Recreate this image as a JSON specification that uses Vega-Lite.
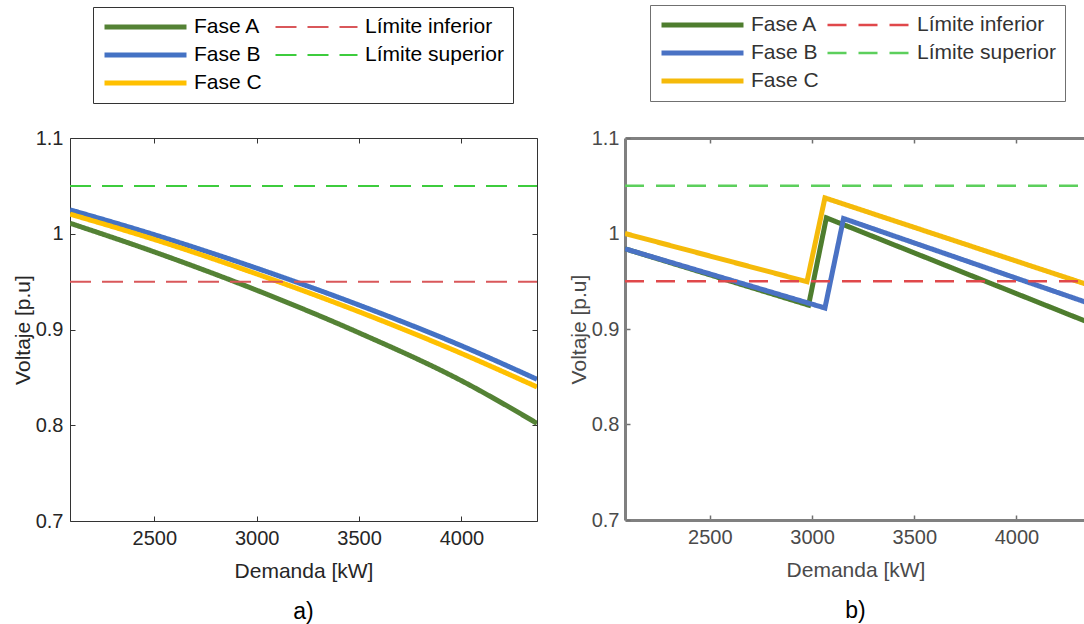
{
  "$schema": "https://vega.github.io/schema/vega-lite/v6.json",
  "background": "white",
  "padding": {"left": 11, "top": 4, "right": 0, "bottom": 0},
  "spacing": 30,
  "config": {
    "font": "Liberation Sans",
    "view": {"stroke": null},
    "axis": {"labelFont": "Liberation Sans", "titleFont": "Liberation Sans", "grid": false, "labelFontSize": 20, "titleFontSize": 21, "titleFontWeight": "normal"},
    "title": {"font": "Liberation Sans"}
  },
  "resolve": {
    "scale": {"color": "independent", "strokeDash": "independent", "strokeWidth": "independent"},
    "legend": {"color": "independent", "strokeDash": "independent", "strokeWidth": "independent"}
  },
  "datasets": {
    "a": [
      {"serie": "Fase A", "demanda": 2088, "voltaje": 1.011},
      {"serie": "Fase A", "demanda": 2500, "voltaje": 0.981},
      {"serie": "Fase A", "demanda": 3000, "voltaje": 0.941},
      {"serie": "Fase A", "demanda": 3500, "voltaje": 0.8965},
      {"serie": "Fase A", "demanda": 4000, "voltaje": 0.8465},
      {"serie": "Fase A", "demanda": 4369, "voltaje": 0.802},
      {"serie": "Fase B", "demanda": 2088, "voltaje": 1.025},
      {"serie": "Fase B", "demanda": 2500, "voltaje": 0.999},
      {"serie": "Fase B", "demanda": 3000, "voltaje": 0.964},
      {"serie": "Fase B", "demanda": 3500, "voltaje": 0.9255},
      {"serie": "Fase B", "demanda": 4000, "voltaje": 0.883},
      {"serie": "Fase B", "demanda": 4369, "voltaje": 0.848},
      {"serie": "Fase C", "demanda": 2088, "voltaje": 1.0205},
      {"serie": "Fase C", "demanda": 2500, "voltaje": 0.994},
      {"serie": "Fase C", "demanda": 3000, "voltaje": 0.958},
      {"serie": "Fase C", "demanda": 3500, "voltaje": 0.9185},
      {"serie": "Fase C", "demanda": 4000, "voltaje": 0.875},
      {"serie": "Fase C", "demanda": 4369, "voltaje": 0.84},
      {"serie": "Límite inferior", "demanda": 2088, "voltaje": 0.95},
      {"serie": "Límite inferior", "demanda": 4369, "voltaje": 0.95},
      {"serie": "Límite superior", "demanda": 2088, "voltaje": 1.05},
      {"serie": "Límite superior", "demanda": 4369, "voltaje": 1.05}
    ],
    "b": [
      {"serie": "Fase A", "demanda": 2085, "voltaje": 0.984},
      {"serie": "Fase A", "demanda": 2983, "voltaje": 0.925},
      {"serie": "Fase A", "demanda": 3070, "voltaje": 1.0164},
      {"serie": "Fase A", "demanda": 4340, "voltaje": 0.908},
      {"serie": "Fase B", "demanda": 2085, "voltaje": 0.984},
      {"serie": "Fase B", "demanda": 3063, "voltaje": 0.922},
      {"serie": "Fase B", "demanda": 3154, "voltaje": 1.0157},
      {"serie": "Fase B", "demanda": 4340, "voltaje": 0.928},
      {"serie": "Fase C", "demanda": 2085, "voltaje": 1.0},
      {"serie": "Fase C", "demanda": 2975, "voltaje": 0.9495},
      {"serie": "Fase C", "demanda": 3063, "voltaje": 1.0373},
      {"serie": "Fase C", "demanda": 4340, "voltaje": 0.947},
      {"serie": "Límite inferior", "demanda": 2085, "voltaje": 0.95},
      {"serie": "Límite inferior", "demanda": 4340, "voltaje": 0.95},
      {"serie": "Límite superior", "demanda": 2085, "voltaje": 1.05},
      {"serie": "Límite superior", "demanda": 4340, "voltaje": 1.05}
    ]
  },
  "hconcat": [
    {
      "width": 467,
      "height": 383,
      "view": {"stroke": "#333333", "strokeWidth": 1},
      "data": {"name": "a"},
      "title": {"text": "a)", "orient": "bottom", "anchor": "middle", "fontSize": 23, "fontWeight": "normal", "color": "#000000", "offset": 20},
      "encoding": {
        "color": {"field": "serie", "type": "nominal",
          "scale": {"domain": ["Fase A", "Fase B", "Fase C", "Límite inferior", "Límite superior"], "range": ["#548235", "#4472C4", "#FFC000", "#D9575A", "#3DCC3D"]},
          "legend": {"orient": "none", "legendX": 23, "legendY": -131, "direction": "vertical", "columns": 2, "title": null, "strokeColor": "#333333", "fillColor": "white", "padding": 9, "symbolType": "stroke", "symbolSize": 6724, "symbolOffset": 0, "labelOffset": 5, "labelFontSize": 21, "labelColor": "#000000", "clipHeight": 22, "rowPadding": 6, "columnPadding": 11}},
        "strokeDash": {"field": "serie", "type": "nominal",
          "scale": {"domain": ["Fase A", "Fase B", "Fase C", "Límite inferior", "Límite superior"], "range": [[1, 0], [1, 0], [1, 0], [21, 11], [21, 11]]},
          "legend": {"orient": "none", "legendX": 23, "legendY": -131, "direction": "vertical", "columns": 2, "title": null, "strokeColor": "#333333", "fillColor": "white", "padding": 9, "symbolType": "stroke", "symbolSize": 6724, "symbolOffset": 0, "labelOffset": 5, "labelFontSize": 21, "labelColor": "#000000", "clipHeight": 22, "rowPadding": 6, "columnPadding": 11}},
        "strokeWidth": {"field": "serie", "type": "nominal",
          "scale": {"type": "ordinal", "domain": ["Fase A", "Fase B", "Fase C", "Límite inferior", "Límite superior"], "range": [5, 5, 5, 2, 2]},
          "legend": {"orient": "none", "legendX": 23, "legendY": -131, "direction": "vertical", "columns": 2, "title": null, "strokeColor": "#333333", "fillColor": "white", "padding": 9, "symbolType": "stroke", "symbolSize": 6724, "symbolOffset": 0, "labelOffset": 5, "labelFontSize": 21, "labelColor": "#000000", "clipHeight": 22, "rowPadding": 6, "columnPadding": 11}}
      },
      "resolve": {"axis": {"x": "independent", "y": "independent"}},
      "layer": [
        {
          "transform": [{"filter": "indexof(datum.serie, 'Fase') === 0"}],
          "mark": {"type": "line", "interpolate": "monotone", "clip": true},
          "encoding": {
            "x": {"field": "demanda", "type": "quantitative", "scale": {"domain": [2088, 4369], "nice": false, "zero": false},
              "axis": {"orient": "bottom", "values": [2500, 3000, 3500, 4000], "format": "d", "domain": false, "tickColor": "#333333", "tickSize": -5, "labelPadding": 12, "labelColor": "#262626", "title": "Demanda [kW]", "titleColor": "#262626", "titlePadding": 12}},
            "y": {"field": "voltaje", "type": "quantitative", "scale": {"domain": [0.7, 1.1], "nice": false, "zero": false},
              "axis": {"orient": "left", "values": [0.7, 0.8, 0.9, 1, 1.1], "format": "~g", "domain": false, "tickColor": "#333333", "tickSize": -5, "labelPadding": 12, "labelColor": "#262626", "title": "Voltaje [p.u]", "titleColor": "#262626", "titlePadding": 2}}
          }
        },
        {
          "transform": [{"filter": "indexof(datum.serie, 'Límite') === 0"}],
          "mark": {"type": "line", "clip": true},
          "encoding": {
            "x": {"field": "demanda", "type": "quantitative", "scale": {"domain": [2088, 4369], "nice": false, "zero": false},
              "axis": {"orient": "top", "values": [2500, 3000, 3500, 4000], "labels": false, "domain": false, "tickColor": "#333333", "tickSize": -5, "title": null}},
            "y": {"field": "voltaje", "type": "quantitative", "scale": {"domain": [0.7, 1.1], "nice": false, "zero": false},
              "axis": {"orient": "right", "values": [0.7, 0.8, 0.9, 1, 1.1], "labels": false, "domain": false, "tickColor": "#333333", "tickSize": -5, "title": null}}
          }
        }
      ]
    },
    {
      "width": 461,
      "height": 382,
      "view": {"stroke": null},
      "data": {"name": "b"},
      "title": {"text": "b)", "orient": "bottom", "anchor": "middle", "fontSize": 23, "fontWeight": "normal", "color": "#000000", "offset": 20},
      "encoding": {
        "color": {"field": "serie", "type": "nominal",
          "scale": {"domain": ["Fase A", "Fase B", "Fase C", "Límite inferior", "Límite superior"], "range": ["#4E7D2E", "#4A72C4", "#F5BA0A", "#E0484B", "#5CCF5C"]},
          "legend": {"orient": "none", "legendX": 25, "legendY": -133, "direction": "vertical", "columns": 2, "title": null, "strokeColor": "#707070", "fillColor": "white", "padding": 9, "symbolType": "stroke", "symbolSize": 6724, "symbolOffset": 0, "labelOffset": 5, "labelFontSize": 21, "labelColor": "#333333", "clipHeight": 22, "rowPadding": 6, "columnPadding": 6}},
        "strokeDash": {"field": "serie", "type": "nominal",
          "scale": {"domain": ["Fase A", "Fase B", "Fase C", "Límite inferior", "Límite superior"], "range": [[1, 0], [1, 0], [1, 0], [19, 12], [19, 12]]},
          "legend": {"orient": "none", "legendX": 25, "legendY": -133, "direction": "vertical", "columns": 2, "title": null, "strokeColor": "#707070", "fillColor": "white", "padding": 9, "symbolType": "stroke", "symbolSize": 6724, "symbolOffset": 0, "labelOffset": 5, "labelFontSize": 21, "labelColor": "#333333", "clipHeight": 22, "rowPadding": 6, "columnPadding": 6}},
        "strokeWidth": {"field": "serie", "type": "nominal",
          "scale": {"type": "ordinal", "domain": ["Fase A", "Fase B", "Fase C", "Límite inferior", "Límite superior"], "range": [5, 5, 5, 2.5, 2.5]},
          "legend": {"orient": "none", "legendX": 25, "legendY": -133, "direction": "vertical", "columns": 2, "title": null, "strokeColor": "#707070", "fillColor": "white", "padding": 9, "symbolType": "stroke", "symbolSize": 6724, "symbolOffset": 0, "labelOffset": 5, "labelFontSize": 21, "labelColor": "#333333", "clipHeight": 22, "rowPadding": 6, "columnPadding": 6}}
      },
      "resolve": {"axis": {"x": "independent", "y": "independent"}},
      "layer": [
        {
          "transform": [{"filter": "indexof(datum.serie, 'Fase') === 0"}],
          "mark": {"type": "line", "clip": true},
          "encoding": {
            "x": {"field": "demanda", "type": "quantitative", "scale": {"domain": [2085, 4340], "nice": false, "zero": false},
              "axis": {"orient": "bottom", "values": [2500, 3000, 3500, 4000], "format": "d", "domain": true, "domainColor": "#808080", "domainWidth": 3, "tickColor": "#707070", "tickWidth": 1.5, "tickSize": -5, "labelPadding": 12, "labelColor": "#4a4a4a", "title": "Demanda [kW]", "titleColor": "#4a4a4a", "titlePadding": 12}},
            "y": {"field": "voltaje", "type": "quantitative", "scale": {"domain": [0.7, 1.1], "nice": false, "zero": false},
              "axis": {"orient": "left", "values": [0.7, 0.8, 0.9, 1, 1.1], "format": "~g", "domain": true, "domainColor": "#808080", "domainWidth": 3, "tickColor": "#707070", "tickWidth": 1.5, "tickSize": -5, "labelPadding": 11, "labelColor": "#4a4a4a", "title": "Voltaje [p.u]", "titleColor": "#4a4a4a", "titlePadding": 2}}
          }
        },
        {
          "transform": [{"filter": "indexof(datum.serie, 'Límite') === 0"}],
          "mark": {"type": "line", "clip": true},
          "encoding": {
            "x": {"field": "demanda", "type": "quantitative", "scale": {"domain": [2085, 4340], "nice": false, "zero": false},
              "axis": {"orient": "top", "values": [2500, 3000, 3500, 4000], "labels": false, "domain": true, "domainColor": "#808080", "domainWidth": 3, "tickColor": "#707070", "tickWidth": 1.5, "tickSize": -5, "title": null}},
            "y": {"field": "voltaje", "type": "quantitative", "scale": {"domain": [0.7, 1.1], "nice": false, "zero": false}, "axis": null}
          }
        }
      ]
    }
  ]
}
